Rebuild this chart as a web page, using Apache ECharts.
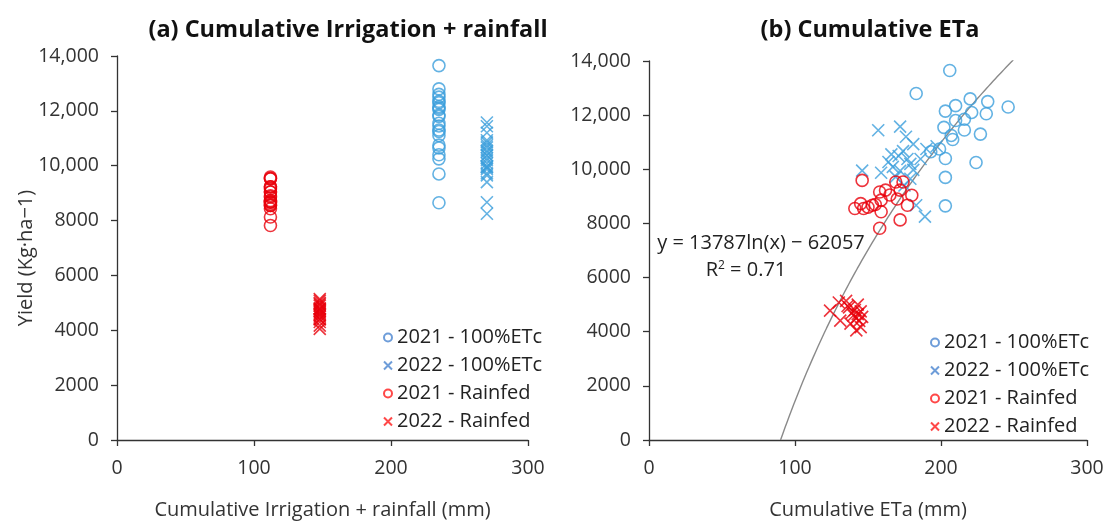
<!DOCTYPE html>
<html>
<head>
<meta charset="utf-8">
<script src="https://cdn.jsdelivr.net/npm/echarts@6/dist/echarts.min.js"></script>
<style>
  html, body { margin: 0; padding: 0; background: #fff; }
  #chart { width: 1107px; height: 525px; }
</style>
</head>
<body>
<div id="chart"></div>
<script>
// Yield (kg/ha) against cumulative irrigation + rainfall (a) and cumulative ETa (b)

const seriesNames = ['2021 - 100%ETc', '2022 - 100%ETc', '2021 - Rainfed', '2022 - Rainfed'];

// Cumulative irrigation + rainfall per treatment-year (mm), panel (a)
const waterInput = [235, 270, 112, 148];

// 2021 - 100%ETc
const yield21Etc = [13650, 12800, 12600, 12500, 12350, 12300, 12150, 12100, 12050, 11800, 11850,
                    11550, 11450, 11300, 11250, 11100, 10750, 10650, 10400, 10250, 9700, 8650];
const eta21Etc   = [206, 183, 220, 232, 210, 246, 203, 221, 231, 210, 216,
                    202, 216, 227, 207, 208, 199, 193, 203, 224, 203, 203];

// 2022 - 100%ETc
const yield22Etc = [11440, 11575, 9950, 9870, 10930, 10750, 10850, 10490, 10380, 10200, 10090,
                    9940, 10270, 10380, 9650, 8670, 8250, 10670, 9720, 9400, 9980, 10550, 11200];
const eta22Etc   = [157, 172, 146, 159, 181, 190, 197, 171, 177, 179, 167,
                    172, 164, 186, 179, 183, 189, 174, 169, 175, 181, 166, 176];

// 2021 - Rainfed
const yield21Rf = [9590, 8550, 8730, 8550, 8670, 9160, 8860, 9230, 9530, 9230, 9530,
                   8900, 8670, 9040, 8430, 8130, 7820, 8600, 9050, 8700];
const eta21Rf   = [146, 141, 145, 147, 153, 158, 159, 162, 169, 172, 174,
                   170, 177, 180, 159, 172, 158, 150, 165, 155];

// 2022 - Rainfed
const yield22Rf = [4780, 4410, 5080, 5140, 4900, 4700, 4600, 4800, 4500, 4650, 4400,
                   4750, 4050, 4170, 4300, 4550, 4950, 5000];
const eta22Rf   = [124, 131, 130, 135, 137, 139, 140, 141, 142, 143, 144,
                   145, 142, 145, 138, 146, 136, 143];

// Logarithmic fit shown in panel (b): y = 13787 ln(x) - 62057
const fitA = 13787, fitB = -62057;
const fitRange = [90.1, 249.5];

const xTicks = [0, 100, 200, 300];
const yTicks = [0, 2000, 4000, 6000, 8000, 10000, 12000, 14000];

const BLUE = '#3c9fdc', RED = '#e8000b';
const LEG_BLUE = '#4a84d0', LEG_RED = '#ff1a1a';
const FONT = 'Open Sans';
const X_PATH = 'path://M0,0L10,10M10,0L0,10';

function pairs(xs, ys) { return ys.map((y, i) => [xs[i], y]); }
function constPairs(x, ys) { return ys.map(y => [x, y]); }

const fitLine = [];
for (let x = fitRange[0]; x <= fitRange[1]; x += 1.5) fitLine.push([x, fitA * Math.log(x) + fitB]);
fitLine.push([fitRange[1], fitA * Math.log(fitRange[1]) + fitB]);

const yFmt = v => v >= 10000 ? v.toLocaleString('en-US') : String(v);

function xAxisCfg(gi, name) {
  return {
    gridIndex: gi, type: 'value', min: xTicks[0], max: xTicks[xTicks.length - 1], interval: 100,
    axisLine: { lineStyle: { color: '#333', width: 1.3 } },
    axisTick: { show: true, length: 6, lineStyle: { color: '#333', width: 1.3 } },
    splitLine: { show: false },
    axisLabel: { color: '#333', fontSize: 19.5, fontFamily: FONT, margin: 18 },
    name: name, nameLocation: 'middle', nameGap: 60,
    nameTextStyle: { color: '#333', fontSize: 20, fontFamily: FONT }
  };
}
function yAxisCfg(gi) {
  return {
    gridIndex: gi, type: 'value', min: yTicks[0], max: yTicks[yTicks.length - 1], interval: 2000,
    axisLine: { show: true, lineStyle: { color: '#333', width: 1.3 } },
    axisTick: { show: true, length: 6, lineStyle: { color: '#333', width: 1.3 } },
    splitLine: { show: false },
    axisLabel: { color: '#333', fontSize: 19.5, fontFamily: FONT, margin: 18, formatter: yFmt }
  };
}

function circleSeries(name, data, color, gi) {
  return {
    name, type: 'scatter', xAxisIndex: gi, yAxisIndex: gi, data,
    symbol: 'circle', symbolSize: 12,
    itemStyle: { color: 'rgba(0,0,0,0)', borderColor: color, borderWidth: 1.6 },
    emphasis: { disabled: true }
  };
}
function crossSeries(name, data, color, gi) {
  return {
    name, type: 'scatter', xAxisIndex: gi, yAxisIndex: gi, data,
    symbol: X_PATH, symbolSize: 12,
    itemStyle: { color: 'rgba(0,0,0,0)', borderColor: color, borderWidth: 1.6 },
    emphasis: { disabled: true }
  };
}

const legendData = [
  { name: seriesNames[0], icon: 'circle', itemStyle: { color: 'rgba(0,0,0,0)', borderColor: LEG_BLUE, borderWidth: 2 } },
  { name: seriesNames[1], icon: X_PATH, itemStyle: { color: 'rgba(0,0,0,0)', borderColor: LEG_BLUE, borderWidth: 2 } },
  { name: seriesNames[2], icon: 'circle', itemStyle: { color: 'rgba(0,0,0,0)', borderColor: LEG_RED, borderWidth: 2 } },
  { name: seriesNames[3], icon: X_PATH, itemStyle: { color: 'rgba(0,0,0,0)', borderColor: LEG_RED, borderWidth: 2 } }
];
function legendCfg(left, top) {
  return {
    orient: 'vertical', left, top, itemGap: 7, itemWidth: 8, itemHeight: 8,
    selectedMode: false, data: legendData,
    textStyle: { color: '#222', fontSize: 20, fontFamily: FONT, lineHeight: 21, padding: [0, 0, 0, 0] }
  };
}

const chart = echarts.init(document.getElementById('chart'), null, { renderer: 'canvas' });
chart.setOption({
  backgroundColor: '#fff',
  animation: false,
  title: [
    { text: '(a) Cumulative Irrigation + rainfall', left: 343, top: 13, textAlign: 'center',
      textStyle: { fontSize: 23.5, fontWeight: 'bold', color: '#111', fontFamily: FONT } },
    { text: '(b) Cumulative ETa', left: 865, top: 13, textAlign: 'center',
      textStyle: { fontSize: 23.5, fontWeight: 'bold', color: '#111', fontFamily: FONT } }
  ],
  grid: [
    { left: 117, top: 56, width: 411, height: 386 },
    { left: 649, top: 61, width: 438, height: 383 }
  ],
  xAxis: [
    xAxisCfg(0, 'Cumulative Irrigation + rainfall (mm)'),
    xAxisCfg(1, 'Cumulative ETa (mm)')
  ],
  yAxis: [yAxisCfg(0), yAxisCfg(1)],
  legend: [legendCfg(378, 322), legendCfg(925, 327)],
  series: [
    circleSeries(seriesNames[0], constPairs(waterInput[0], yield21Etc), BLUE, 0),
    crossSeries(seriesNames[1], constPairs(waterInput[1], yield22Etc), BLUE, 0),
    circleSeries(seriesNames[2], constPairs(waterInput[2], yield21Rf), RED, 0),
    crossSeries(seriesNames[3], constPairs(waterInput[3], yield22Rf), RED, 0),
    {
      name: 'fit', type: 'line', xAxisIndex: 1, yAxisIndex: 1, data: fitLine,
      showSymbol: false, silent: true, z: 1,
      lineStyle: { color: '#8a8a8a', width: 1.4 }
    },
    circleSeries(seriesNames[0], pairs(eta21Etc, yield21Etc), BLUE, 1),
    crossSeries(seriesNames[1], pairs(eta22Etc, yield22Etc), BLUE, 1),
    circleSeries(seriesNames[2], pairs(eta21Rf, yield21Rf), RED, 1),
    crossSeries(seriesNames[3], pairs(eta22Rf, yield22Rf), RED, 1)
  ],
  graphic: [
    { type: 'text', x: 26, y: 258, rotation: Math.PI / 2,
      style: { text: 'Yield (Kg·ha−1)', align: 'center', verticalAlign: 'middle',
               fill: '#333', font: '20px "Open Sans"' } },
    { type: 'text', x: 761, y: 243,
      style: { text: 'y = 13787ln(x) − 62057', align: 'center', verticalAlign: 'middle',
               fill: '#222', font: '20px "Open Sans"' } },
    { type: 'text', x: 746, y: 270,
      style: { text: 'R{s|2} = 0.71', align: 'center', verticalAlign: 'middle',
               fill: '#222', font: '20px "Open Sans"',
               rich: { s: { fontSize: 12, verticalAlign: 'top', padding: [0, 0, 9, 0], fill: '#222', fontFamily: FONT } } } }
  ]
});
</script>
</body>
</html>
